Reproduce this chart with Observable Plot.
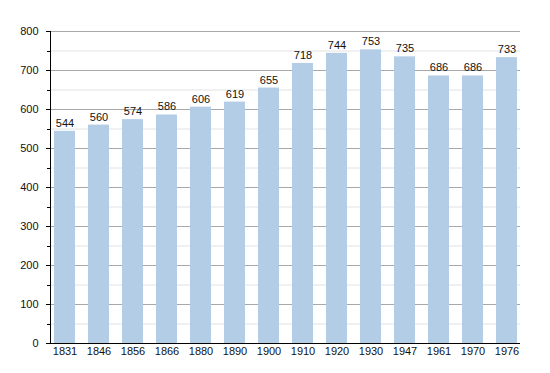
<!DOCTYPE html>
<html>
<head>
<meta charset="utf-8">
<script src="https://cdn.jsdelivr.net/npm/d3@7"></script>
<script src="https://cdn.jsdelivr.net/npm/@observablehq/plot@0.6"></script>
<style>
  body { margin: 0; background: #fff; }
  svg { font-family: "Liberation Sans", Arial, sans-serif; }
</style>
</head>
<body>
<div id="chart"></div>
<script>
const years = ["1831","1846","1856","1866","1880","1890","1900","1910","1920","1930","1947","1961","1970","1976"];
const population = [544,560,574,586,606,619,655,718,744,753,735,686,686,733];
const majorTicks = [0,100,200,300,400,500,600,700,800];
const minorTicks = [50,150,250,350,450,550,650,750];

const data = years.map((y, i) => ({year: y, pop: population[i]}));

const chart = Plot.plot({
  width: 550,
  height: 373,
  marginLeft: 50,
  marginRight: 30,
  marginTop: 31,
  marginBottom: 30,
  style: {fontSize: "11px", fontFamily: "'Liberation Sans', Arial, sans-serif", color: "#111"},
  x: {domain: years, paddingInner: 0.39, paddingOuter: 0, label: null, tickSize: 0, tickPadding: 4},
  y: {domain: [0, 800], label: null},
  marks: [
    Plot.ruleY(minorTicks, {stroke: "#e2e2e2", strokeWidth: 1}),
    Plot.ruleY(majorTicks.filter(d => d > 0), {stroke: "#a8a8a8", strokeWidth: 1}),
    Plot.barY(data, {x: "year", y: "pop", fill: "#b3cde7"}),
    Plot.text(data, {x: "year", y: "pop", text: d => String(d.pop), dy: -8, fill: "#111", fontSize: 11}),
    Plot.axisY(majorTicks, {tickSize: 4, tickPadding: 8, label: null, stroke: "#000"}),
    Plot.ruleY([0], {stroke: "#000"}),
    Plot.axisX({tickSize: 0, tickPadding: 4, label: null})
  ]
});
document.getElementById("chart").appendChild(chart);

// y axis line and minor ticks, positioned through the chart's y scale
const yS = chart.scale("y");
const svg = d3.select(chart);
svg.append("line")
  .attr("x1", 50.5).attr("x2", 50.5)
  .attr("y1", yS.apply(800)).attr("y2", yS.apply(0))
  .attr("stroke", "#000");
svg.selectAll("line.minor").data(minorTicks).join("line")
  .attr("class", "minor")
  .attr("x1", 47).attr("x2", 50.5)
  .attr("y1", d => Math.round(yS.apply(d)) + 0.5)
  .attr("y2", d => Math.round(yS.apply(d)) + 0.5)
  .attr("stroke", "#000");
</script>
</body>
</html>
